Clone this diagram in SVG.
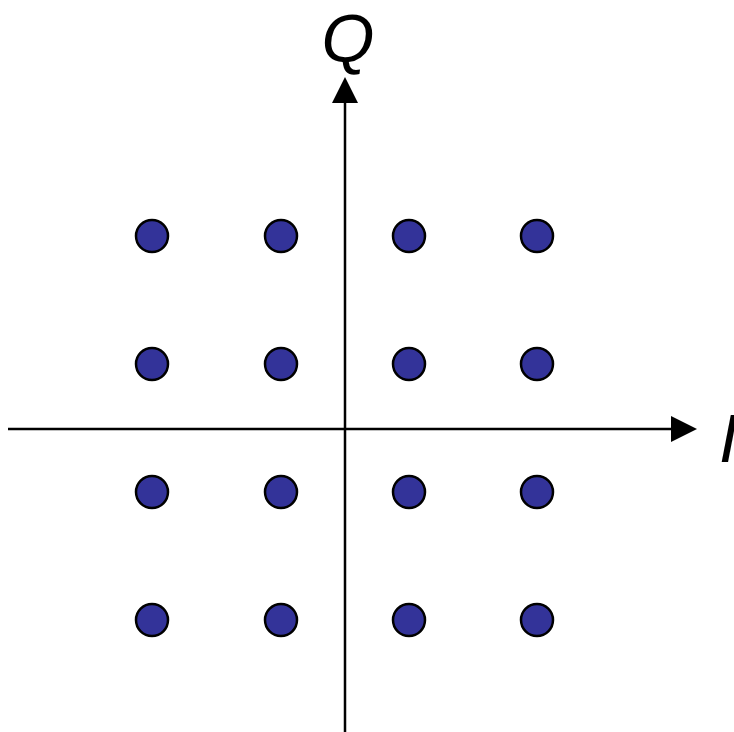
<svg xmlns="http://www.w3.org/2000/svg" width="734" height="732" viewBox="0 0 734 732">
<style>
.dot{fill:#333399;stroke:#000;stroke-width:2.5}
.ax{stroke:#000;stroke-width:2.5;fill:none}
.lbl{font-family:"Liberation Sans",Arial,sans-serif;font-style:italic;font-size:68px;fill:#000}
</style>
<rect width="734" height="732" fill="#fff"/>
<g id="axes">
<line class="ax" x1="8" y1="429" x2="672" y2="429"/>
<polygon points="697,429 671,416 671,442" fill="#000"/>
<line class="ax" x1="345" y1="732" x2="345" y2="102"/>
<polygon points="345,77 332,103 358,103" fill="#000"/>
</g>
<text class="lbl" x="348" y="62" text-anchor="middle">Q</text>
<text class="lbl" x="719" y="462">I</text>
<g id="points">
<circle class="dot" cx="152" cy="236" r="16"/><circle class="dot" cx="281" cy="236" r="16"/><circle class="dot" cx="409" cy="236" r="16"/><circle class="dot" cx="537" cy="236" r="16"/>
<circle class="dot" cx="152" cy="364" r="16"/><circle class="dot" cx="281" cy="364" r="16"/><circle class="dot" cx="409" cy="364" r="16"/><circle class="dot" cx="537" cy="364" r="16"/>
<circle class="dot" cx="152" cy="492" r="16"/><circle class="dot" cx="281" cy="492" r="16"/><circle class="dot" cx="409" cy="492" r="16"/><circle class="dot" cx="537" cy="492" r="16"/>
<circle class="dot" cx="152" cy="620" r="16"/><circle class="dot" cx="281" cy="620" r="16"/><circle class="dot" cx="409" cy="620" r="16"/><circle class="dot" cx="537" cy="620" r="16"/>
</g>
</svg>
